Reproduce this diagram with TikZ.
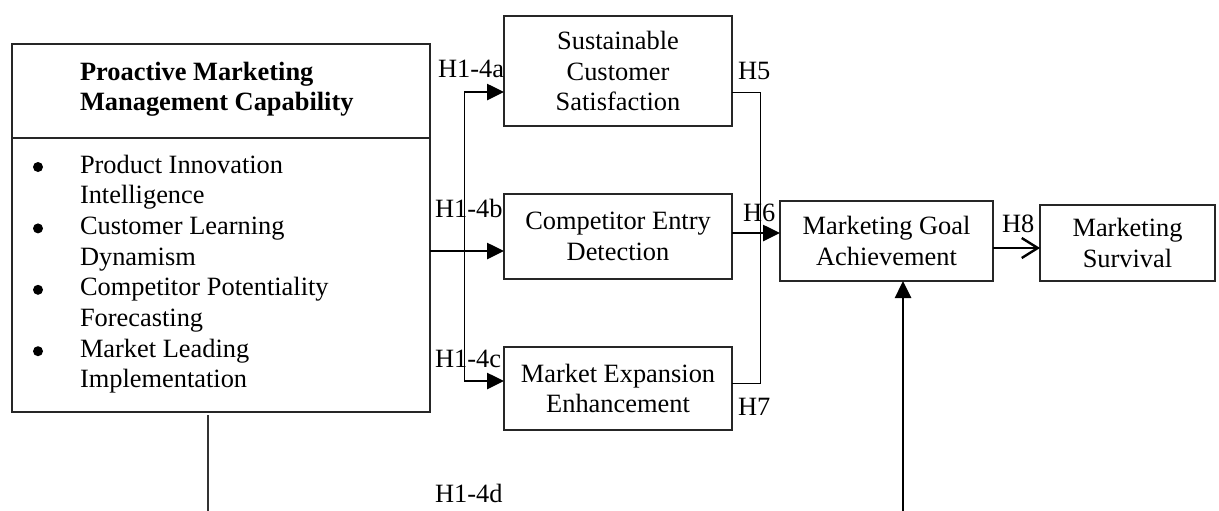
\documentclass[tikz,border=0pt]{standalone}
\usepackage{fontspec}
\setmainfont{Liberation Serif}
\usetikzlibrary{arrows.meta}

\begin{document}
\begin{tikzpicture}[x=0.5pt,y=-0.5pt,
  every node/.style={font=\fontsize{13.2}{15.35}\selectfont},
  box/.style={draw=black!85, line width=0.65pt, outer sep=0pt, inner sep=2pt, align=center},
  txt/.style={anchor=base west, inner sep=0pt, outer sep=0pt},
  dot/.style={circle, fill=black, inner sep=0pt, minimum size=5pt},
  thinline/.style={line width=0.5pt, black},
  heavy/.style={line width=1.3pt, -{Triangle[length=8.5pt,width=8pt]}},
  openhead/.style={line width=1.3pt, -{Straight Barb[length=8pt,width=10pt,line width=1.2pt]}},
  stub/.style={line width=1pt, black!80}]

\useasboundingbox (0,0) rectangle (1219,510);

% capability block with its header and list of dimensions
\node[box, minimum width=209pt, minimum height=184pt] (pmmc) at (221,228) {};
\draw[box] (pmmc.west |- 0,138) -- (pmmc.east |- 0,138);
\node[txt, font=\fontsize{13.2}{15.35}\selectfont\bfseries] (h1) at (80,80) {Proactive Marketing};
\node[txt, font=\fontsize{13.2}{15.35}\selectfont\bfseries] (h2) at (80,110.5) {Management Capability};

\foreach \i/\t in {0/Product Innovation, 1/Intelligence, 2/Customer Learning, 3/Dynamism,
                   4/Competitor Potentiality, 5/Forecasting, 6/Market Leading, 7/Implementation}{
  \node[txt] (l\i) at (80,{173+30.7*\i}) {\t};
}
\foreach \i in {0,2,4,6}{
  \node[dot] (b\i) at (38,{167+30.7*\i}) {};
}

% mediating outcomes
\node[box, minimum width=114pt, minimum height=55pt] (scs) at (618,71) {Sustainable\\Customer\\Satisfaction};
\node[box, minimum width=114pt, minimum height=42.5pt] (ced) at (618,236.5) {Competitor Entry\\Detection};
\node[box, minimum width=114pt, minimum height=41.5pt] (mee) at (618,388.5) {Market Expansion\\Enhancement};

% final outcomes
\node[box, minimum width=106.5pt, minimum height=40pt] (mga) at (886.5,241) {Marketing Goal\\Achievement};
\node[box, minimum width=87.5pt, minimum height=38pt] (ms) at (1127.5,243) {Marketing\\Survival};

% branching from the capability block
\coordinate (ba) at (464,92);
\coordinate (bc) at (464,381);
\draw[thinline] (ba) -- (bc);
\draw[heavy] (pmmc.east |- 0,251) -- (ced.west |- 0,251);
\draw[heavy] (ba) -- (scs.west |- ba);
\draw[heavy] (bc) -- (mee.west |- bc);

% collector into goal achievement
\coordinate (ra) at (760,92);
\coordinate (rc) at (760,383);
\draw[thinline] (scs.east |- ra) -- (ra) -- (rc) -- (mee.east |- rc);
\draw[heavy] (ced.east |- 0,233) -- (mga.west |- 0,233);

% goal achievement to survival
\draw[openhead] (mga.east |- 0,248) -- (ms.west |- 0,248);

% links running off the bottom edge
\coordinate (up) at (903,512);
\draw[heavy] (up) -- (up |- mga.south);
\coordinate (down) at (208,512);
\draw[stub] (pmmc.south -| down) ++(0,3) -- (down);

% hypothesis labels
\node[txt] (la) at (438,77) {H1-4a};
\node[txt] (lb) at (435,217) {H1-4b};
\node[txt] (lc) at (435,367) {H1-4c};
\node[txt] (ld) at (435,502) {H1-4d};
\node[txt] (l5) at (738,79) {H5};
\node[txt] (l6) at (743,221) {H6};
\node[txt] (l7) at (738,415) {H7};
\node[txt] (l8) at (1002,232) {H8};
\end{tikzpicture}
\end{document}
